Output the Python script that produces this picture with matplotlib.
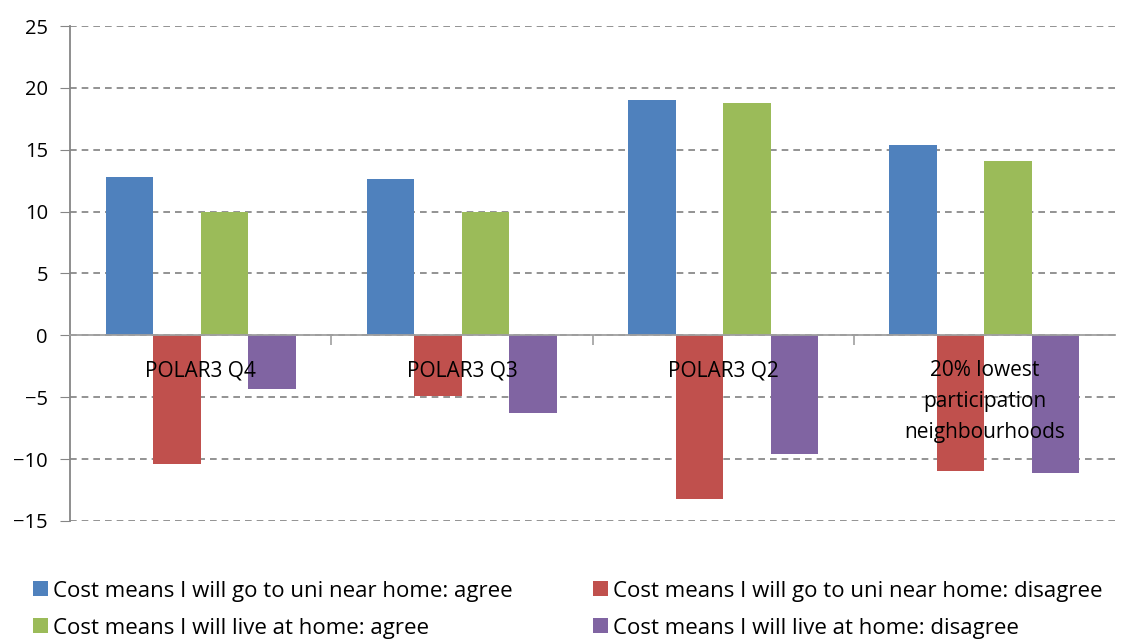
import numpy as np
import matplotlib
matplotlib.use('Agg')
import matplotlib.pyplot as plt
from matplotlib.ticker import FixedLocator

plt.rcParams['font.family'] = ['Open Sans', 'DejaVu Sans']

categories = ['POLAR3 Q4', 'POLAR3 Q3', 'POLAR3 Q2',
              '20% lowest\nparticipation\nneighbourhoods']
series_names = ['Cost means I will go to uni near home: agree',
                'Cost means I will go to uni near home: disagree',
                'Cost means I will live at home: agree',
                'Cost means I will live at home: disagree']
uni_agree = [12.8, 12.6, 19.0, 15.4]
uni_disagree = [-10.4, -4.9, -13.2, -11.0]
home_agree = [10.0, 10.0, 18.8, 14.1]
home_disagree = [-4.3, -6.3, -9.6, -11.1]
colors = ['#4F81BD', '#C0504D', '#9BBB59', '#8064A2']

fig = plt.figure(figsize=(11.24, 6.42), dpi=100)
ax = fig.add_axes([0.0623, 0.1885, 0.9297, 0.771])

x = np.arange(len(categories))
w = 0.182
all_series = [uni_agree, uni_disagree, home_agree, home_disagree]
bars = []
for i, (vals, c, name) in enumerate(zip(all_series, colors, series_names)):
    bars.append(ax.bar(x + (i - 1.5) * w, vals, width=w, color=c, label=name, zorder=3))

ax.set_xlim(-0.5, len(categories) - 0.5)
ax.set_ylim(-15, 25)
ax.set_yticks(np.arange(-15, 26, 5))
ax.yaxis.grid(True, linestyle=(0, (4, 3)), color='#808080', linewidth=1.2, zorder=0)
ax.tick_params(axis='y', length=7, color='#868686', labelsize=14.5, pad=9)

for s in ['top', 'right']:
    ax.spines[s].set_visible(False)
ax.spines['left'].set_color('#868686')
ax.spines['left'].set_linewidth(1.3)
ax.spines['bottom'].set_position(('data', 0))
ax.spines['bottom'].set_color('#a0a0a0')
ax.spines['bottom'].set_linewidth(1.3)
ax.spines['bottom'].set_zorder(4)

# category labels drawn over the bars, just under the zero line
ax.set_xticks(x)
ax.set_xticklabels([])
ax.tick_params(axis='x', which='major', length=0)
for xi, lab in zip(x, categories):
    ax.annotate(lab, (xi, 0), xytext=(0, -18), textcoords='offset points',
                ha='center', va='top', fontsize=15, linespacing=1.6, zorder=6)
ax.xaxis.set_minor_locator(FixedLocator(np.arange(0.5, len(categories) - 0.5, 1)))
ax.tick_params(axis='x', which='minor', length=7, color='#a0a0a0', width=1.2)

# legend filled row by row like the original
order = [0, 2, 1, 3]
fig.legend([bars[i] for i in order], [series_names[i] for i in order],
           loc='lower left', bbox_to_anchor=(0.012, -0.026), ncol=2, frameon=False,
           fontsize=16, handlelength=0.65, handleheight=0.65, handletextpad=0.25,
           columnspacing=3.6, labelspacing=0.72)

fig.savefig('out.png', dpi=100)
